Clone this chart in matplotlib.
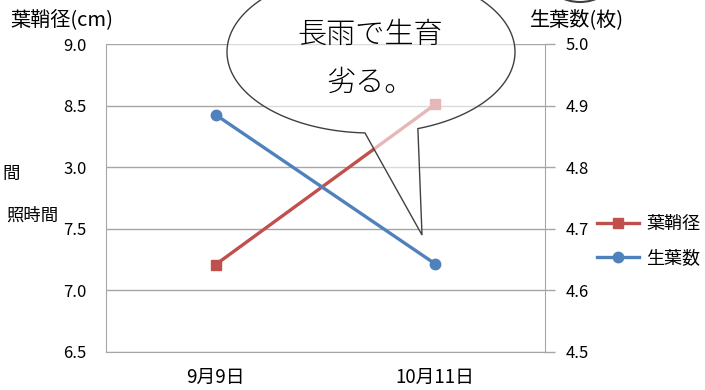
import matplotlib
matplotlib.use('Agg')
import matplotlib.pyplot as plt
from matplotlib.path import Path
from matplotlib.patches import PathPatch, Ellipse
import numpy as np

plt.rcParams['font.family'] = ['Noto Sans CJK JP', 'DejaVu Sans']

dates = ['9月9日', '10月11日']
sheath = [7.21, 8.51]     # 葉鞘径 (cm)
leaves = [4.885, 4.643]   # 生葉数 (枚)
left_ticks = [6.5, 7.0, 7.5, 8.0, 8.5, 9.0]
left_labels = ['6.5', '7.0', '7.5', '3.0', '8.5', '9.0']
right_ticks = [4.5, 4.6, 4.7, 4.8, 4.9, 5.0]

RED = '#C0504D'
BLUE = '#4F81BD'
GRID = '#A6A6A6'

W, H = 705, 390


def px(x, y):
    # pixel position (y from top) -> figure fraction
    return x / W, 1 - y / H


fig = plt.figure(figsize=(W / 100, H / 100), dpi=100)
ax1 = fig.add_axes([106 / W, (H - 352) / H, (545 - 106) / W, (352 - 44) / H])
x = np.arange(len(dates))

ax1.plot(x, sheath, color=RED, lw=2.4, marker='s', ms=7.5, label='葉鞘径', zorder=3)
ax1.set_xlim(-0.5, 1.5)
ax1.set_ylim(6.5, 9.0)
ax1.set_yticks(left_ticks)
ax1.set_yticklabels(left_labels)
ax1.set_xticks(x)
ax1.set_xticklabels(dates)
ax1.tick_params(axis='y', length=0, pad=14, labelsize=12)
ax1.tick_params(axis='x', length=0, pad=11, labelsize=13.5)
ax1.yaxis.grid(True, color=GRID, lw=1)
ax1.set_axisbelow(True)
for s in ['top', 'right']:
    ax1.spines[s].set_visible(False)
for s in ['left', 'bottom']:
    ax1.spines[s].set_color(GRID)

ax2 = ax1.twinx()
ax2.plot(x, leaves, color=BLUE, lw=2.4, marker='o', ms=7.5, label='生葉数')
ax2.set_ylim(4.5, 5.0)
ax2.set_yticks(right_ticks)
ax2.set_yticklabels([f'{v:.1f}' for v in right_ticks])
ax2.tick_params(axis='y', direction='out', length=7, width=1, color=GRID, pad=8, labelsize=12)
for s in ['top', 'left', 'bottom']:
    ax2.spines[s].set_visible(False)
ax2.spines['right'].set_color(GRID)

fig.text(*px(10, 20), '葉鞘径(cm)', fontsize=14.5, va='center', ha='left')
fig.text(*px(530, 20), '生葉数(枚)', fontsize=14.5, va='center', ha='left')

# leftover labels at the left edge
fig.text(*px(20, 174), '間', fontsize=12.5, va='center', ha='right')
fig.text(*px(58, 216), '照時間', fontsize=12.5, va='center', ha='right')

h1, l1 = ax1.get_legend_handles_labels()
h2, l2 = ax2.get_legend_handles_labels()
fig.legend(h1 + h2, l1 + l2, loc='center left', bbox_to_anchor=px(590, 241),
           frameon=False, fontsize=13, handlelength=2.3, handletextpad=0.4,
           labelspacing=0.9, borderaxespad=0)

# speech bubble
cx, cy, a, b = 371, 52, 144, 81
t = np.radians(np.linspace(71, 71 - 338.6, 200))
pts = [(cx + a * np.cos(tt), cy + b * np.sin(tt)) for tt in t]
pts += [(422, 235), pts[0]]
verts = [px(xx, yy) for xx, yy in pts]
codes = [Path.MOVETO] + [Path.LINETO] * (len(verts) - 2) + [Path.CLOSEPOLY]
bubble = PathPatch(Path(verts, codes), transform=fig.transFigure,
                   facecolor=(1, 1, 1, 0.6), edgecolor='#404040', lw=1, zorder=5)
fig.add_artist(bubble)
fig.text(*px(370, 35), '長雨で生育', fontsize=21, fontweight='light',
         ha='center', va='center', zorder=6)
fig.text(*px(370, 83), '劣る。', fontsize=21, fontweight='light',
         ha='center', va='center', zorder=6)

# edge of another shape at the top right
arc = Ellipse(px(580, -18), 60 / W, 40 / H, transform=fig.transFigure,
              facecolor='none', edgecolor='#404040', lw=1.5, zorder=5)
fig.add_artist(arc)

fig.savefig('out.png', dpi=100)
